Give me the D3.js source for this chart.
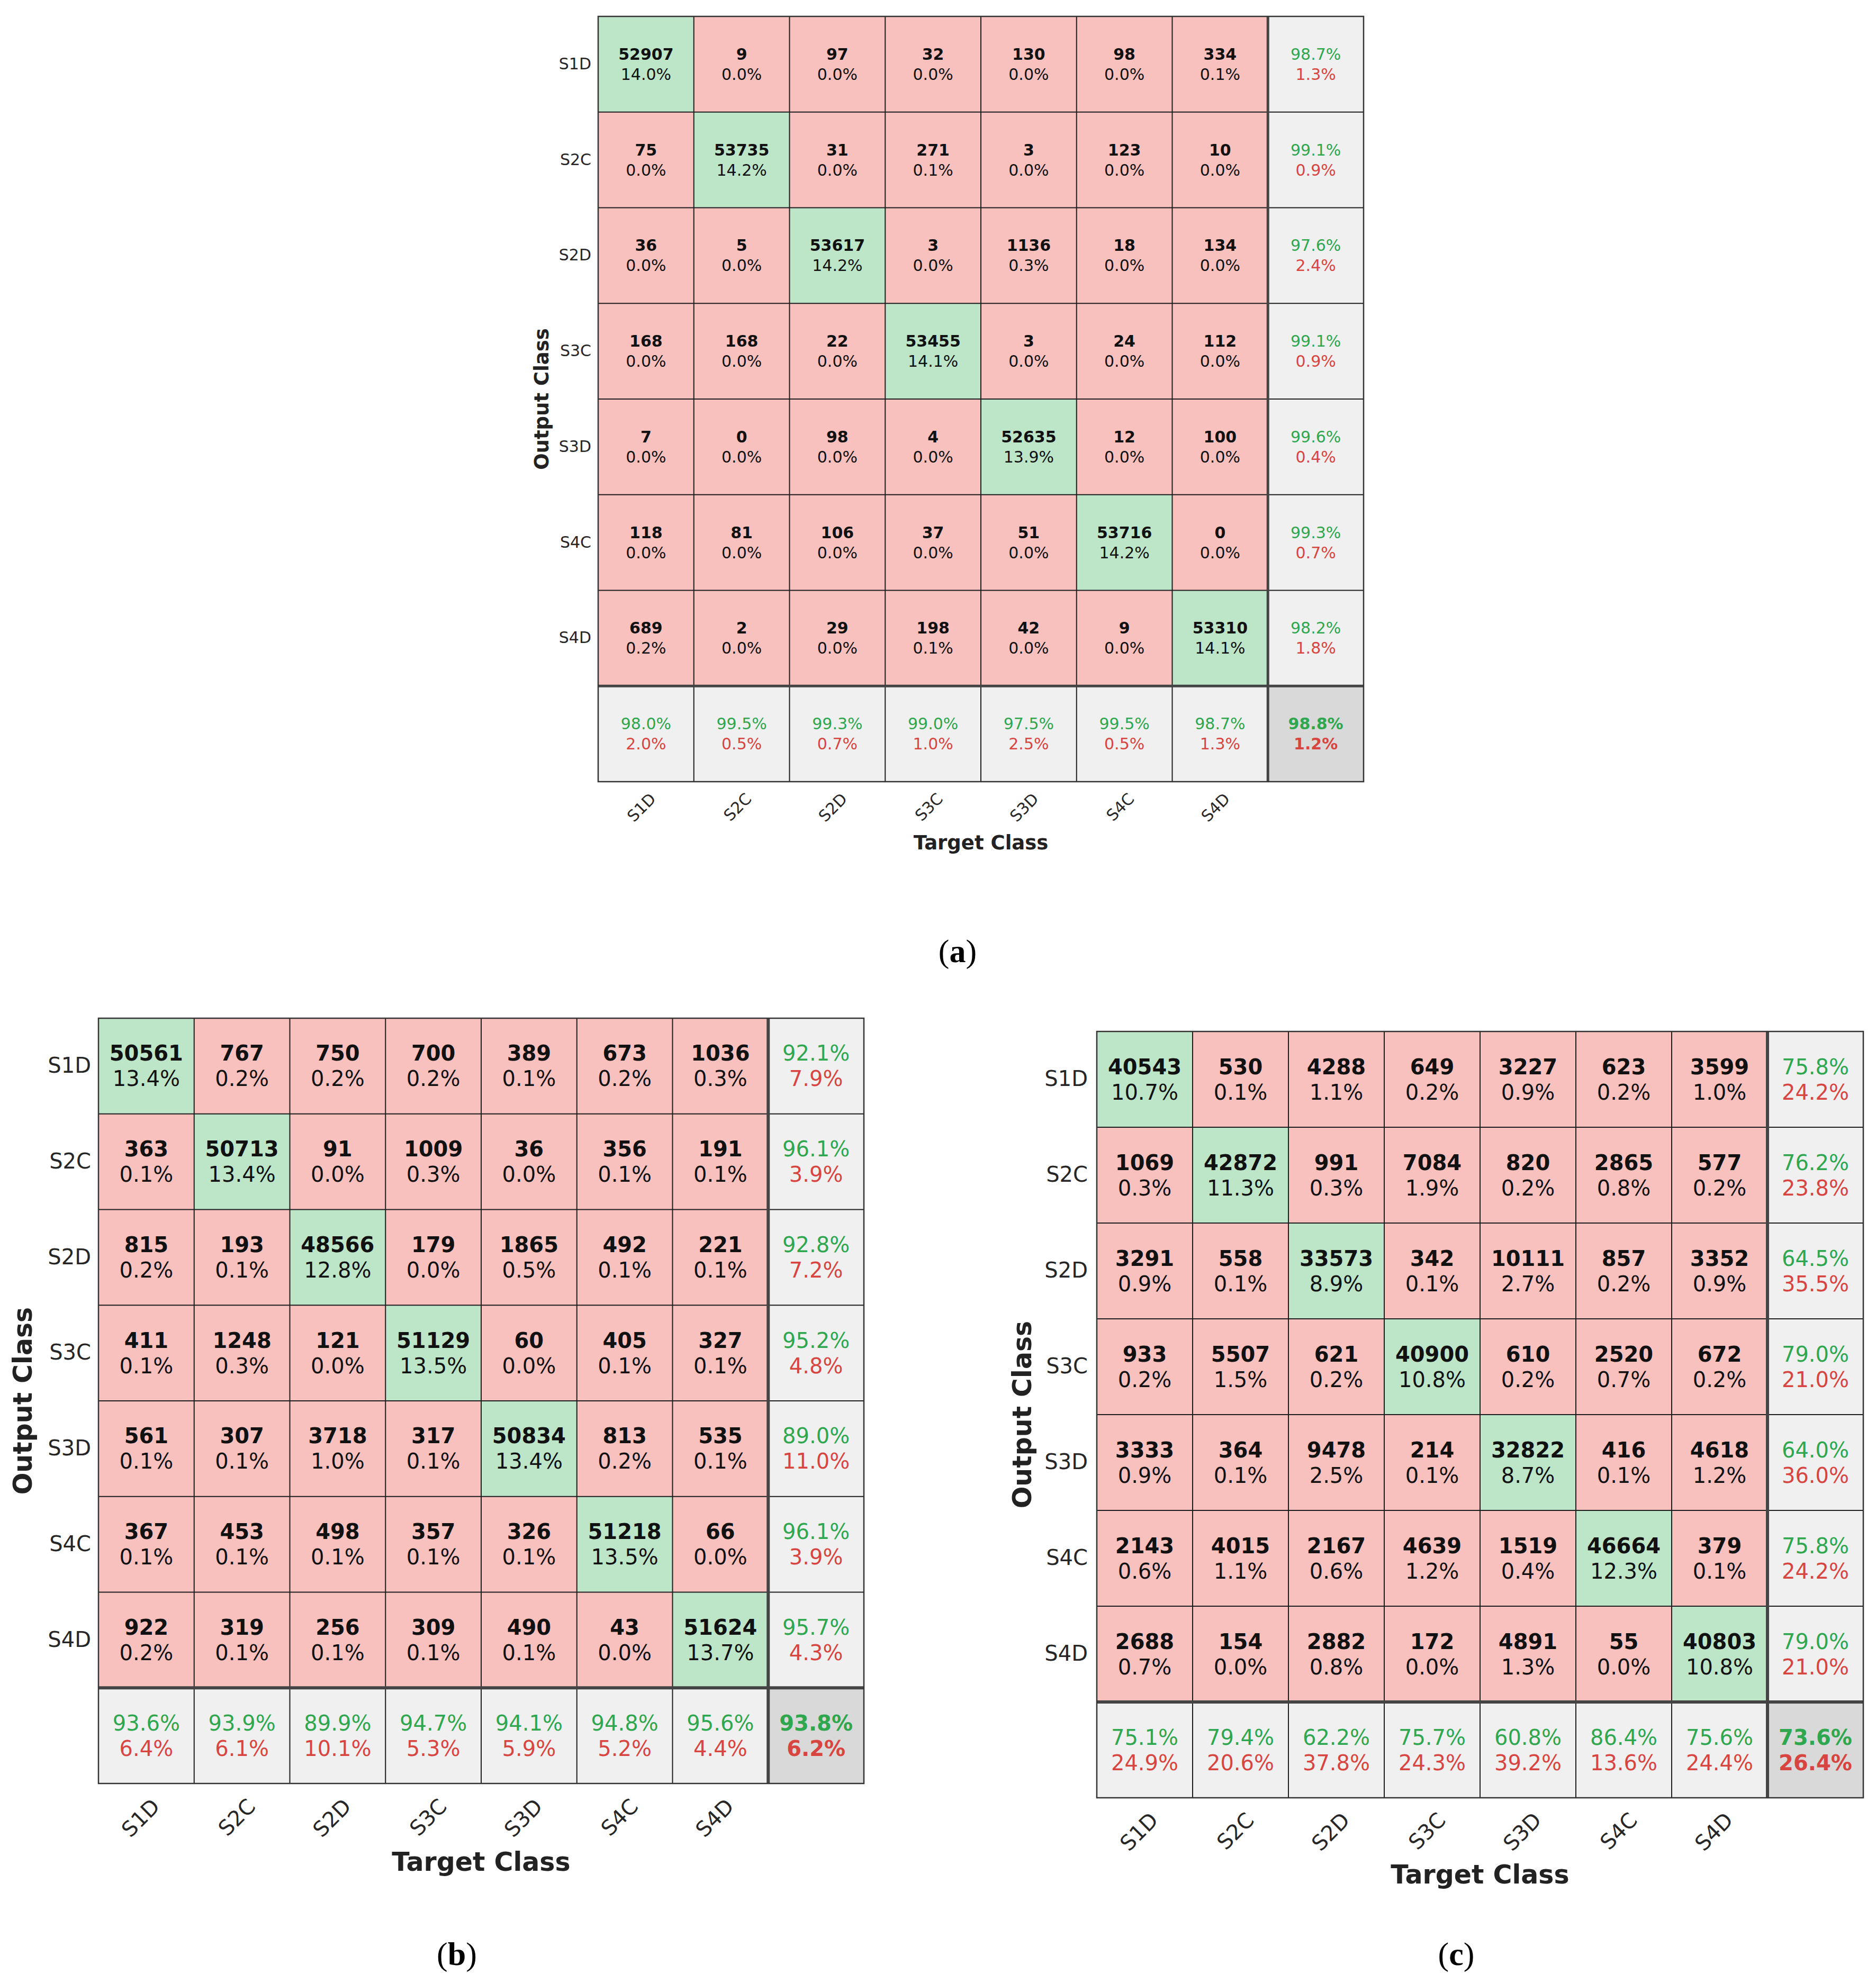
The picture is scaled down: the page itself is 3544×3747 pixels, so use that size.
<!DOCTYPE html>
<html>
<head>
<meta charset="utf-8">
<script src="https://cdn.jsdelivr.net/npm/d3@7"></script>
<style>
  html, body { margin: 0; padding: 0; background: #ffffff; }
  svg { display: block; }
</style>
</head>
<body>
<script>
// ---------- DATA ----------
const classes = ["S1D", "S2C", "S2D", "S3C", "S3D", "S4C", "S4D"];
const summaryKey = "ALL";
const axisTitleX = "Target Class";
const axisTitleY = "Output Class";
const panelLabels = ["(a)", "(b)", "(c)"];

// rows = output class, columns = target class
const countsA = [
  [52907, 9, 97, 32, 130, 98, 334],
  [75, 53735, 31, 271, 3, 123, 10],
  [36, 5, 53617, 3, 1136, 18, 134],
  [168, 168, 22, 53455, 3, 24, 112],
  [7, 0, 98, 4, 52635, 12, 100],
  [118, 81, 106, 37, 51, 53716, 0],
  [689, 2, 29, 198, 42, 9, 53310]
];
const countsB = [
  [50561, 767, 750, 700, 389, 673, 1036],
  [363, 50713, 91, 1009, 36, 356, 191],
  [815, 193, 48566, 179, 1865, 492, 221],
  [411, 1248, 121, 51129, 60, 405, 327],
  [561, 307, 3718, 317, 50834, 813, 535],
  [367, 453, 498, 357, 326, 51218, 66],
  [922, 319, 256, 309, 490, 43, 51624]
];
const countsC = [
  [40543, 530, 4288, 649, 3227, 623, 3599],
  [1069, 42872, 991, 7084, 820, 2865, 577],
  [3291, 558, 33573, 342, 10111, 857, 3352],
  [933, 5507, 621, 40900, 610, 2520, 672],
  [3333, 364, 9478, 214, 32822, 416, 4618],
  [2143, 4015, 2167, 4639, 1519, 46664, 379],
  [2688, 154, 2882, 172, 4891, 55, 40803]
];

// ---------- STYLE ----------
const COL = {
  diag: "#bde5c8",
  off: "#f8c1be",
  summary: "#f0f0f0",
  corner: "#d9d9d9",
  green: "#2fa74f",
  red: "#d84541",
  text: "#111111",
  tick: "#262626",
  thin: "#1e1e1e",
  thick: "#444444"
};

const W = 3544, H = 3747;
const svg = d3.select("body").append("svg")
  .attr("width", W).attr("height", H)
  .attr("viewBox", `0 0 ${W} ${H}`);
svg.append("rect").attr("width", W).attr("height", H).attr("fill", "#ffffff");

const panels = [
  { counts: countsA, label: panelLabels[0], x0: 1130, y0: 31, size: 1446,
    fs: 30, lh: 19, tickFs: 30, tickPad: 13, titleFs: 37,
    yTitleX: 1023, xTitleY: 1592, rot: [13, 27], lbl: [1809, 1797], thick: 5 },
  { counts: countsB, label: panelLabels[1], x0: 186, y0: 1924, size: 1446,
    fs: 40, lh: 24, tickFs: 40, tickPad: 14, titleFs: 49,
    yTitleX: 43, xTitleY: 3518, rot: [18, 36], lbl: [863, 3692], thick: 6 },
  { counts: countsC, label: panelLabels[2], x0: 2072, y0: 1949, size: 1448,
    fs: 40, lh: 24, tickFs: 40, tickPad: 17, titleFs: 49,
    yTitleX: 1931, xTitleY: 3542, rot: [18, 35], lbl: [2751, 3692], thick: 6 }
];

const pct = v => (v * 100).toFixed(1) + "%";

function drawPanel(p) {
  const keys = classes.concat([summaryKey]);
  const x = d3.scaleBand().domain(keys).range([p.x0, p.x0 + p.size]);
  const y = d3.scaleBand().domain(keys).range([p.y0, p.y0 + p.size]);
  const bw = x.bandwidth(), bh = y.bandwidth();
  const m = p.counts;
  const total = d3.sum(m.flat());
  const rowSum = m.map(r => d3.sum(r));
  const colSum = classes.map((_, j) => d3.sum(m, r => r[j]));
  const diagSum = d3.sum(classes, (_, i) => m[i][i]);

  const cells = [];
  classes.forEach((r, i) => classes.forEach((c, j) => {
    cells.push({ row: r, col: c, v: m[i][j], diag: i === j });
  }));

  const g = svg.append("g");

  g.selectAll("rect.cell").data(cells).join("rect")
    .attr("x", d => x(d.col)).attr("y", d => y(d.row))
    .attr("width", bw).attr("height", bh)
    .attr("fill", d => d.diag ? COL.diag : COL.off);

  const summ = [];
  classes.forEach((r, i) => summ.push({ row: r, col: summaryKey, acc: m[i][i] / rowSum[i] }));
  classes.forEach((c, j) => summ.push({ row: summaryKey, col: c, acc: m[j][j] / colSum[j] }));
  summ.push({ row: summaryKey, col: summaryKey, acc: diagSum / total, corner: true });

  g.selectAll("rect.summ").data(summ).join("rect")
    .attr("x", d => x(d.col)).attr("y", d => y(d.row))
    .attr("width", bw).attr("height", bh)
    .attr("fill", d => d.corner ? COL.corner : COL.summary);

  const lines = g.append("g").attr("stroke", COL.thin).attr("stroke-width", 2);
  keys.slice(1).forEach(k => {
    lines.append("line").attr("x1", x(k)).attr("x2", x(k))
      .attr("y1", p.y0).attr("y2", p.y0 + p.size);
    lines.append("line").attr("y1", y(k)).attr("y2", y(k))
      .attr("x1", p.x0).attr("x2", p.x0 + p.size);
  });
  g.append("line").attr("x1", x(summaryKey)).attr("x2", x(summaryKey))
    .attr("y1", p.y0).attr("y2", p.y0 + p.size)
    .attr("stroke", COL.thick).attr("stroke-width", p.thick);
  g.append("line").attr("y1", y(summaryKey)).attr("y2", y(summaryKey))
    .attr("x1", p.x0).attr("x2", p.x0 + p.size)
    .attr("stroke", COL.thick).attr("stroke-width", p.thick);
  g.append("rect").attr("x", p.x0).attr("y", p.y0)
    .attr("width", p.size).attr("height", p.size)
    .attr("fill", "none").attr("stroke", "#333333").attr("stroke-width", 2.5);

  const ct = g.append("g").attr("font-family", "'DejaVu Sans', sans-serif")
    .attr("font-size", p.fs).attr("text-anchor", "middle");
  ct.selectAll("text.n").data(cells).join("text")
    .attr("x", d => x(d.col) + bw / 2).attr("y", d => y(d.row) + bh / 2 - p.lh)
    .attr("dominant-baseline", "central")
    .attr("font-weight", "bold").attr("fill", COL.text)
    .text(d => d.v);
  ct.selectAll("text.p").data(cells).join("text")
    .attr("x", d => x(d.col) + bw / 2).attr("y", d => y(d.row) + bh / 2 + p.lh)
    .attr("dominant-baseline", "central")
    .attr("fill", COL.text)
    .text(d => pct(d.v / total));

  ct.selectAll("text.sa").data(summ).join("text")
    .attr("x", d => x(d.col) + bw / 2).attr("y", d => y(d.row) + bh / 2 - p.lh)
    .attr("dominant-baseline", "central")
    .attr("font-weight", d => d.corner ? "bold" : "normal")
    .attr("fill", COL.green)
    .text(d => pct(d.acc));
  ct.selectAll("text.se").data(summ).join("text")
    .attr("x", d => x(d.col) + bw / 2).attr("y", d => y(d.row) + bh / 2 + p.lh)
    .attr("dominant-baseline", "central")
    .attr("font-weight", d => d.corner ? "bold" : "normal")
    .attr("fill", COL.red)
    .text(d => pct(1 - d.acc));

  const ya = g.append("g").attr("transform", `translate(${p.x0},0)`)
    .call(d3.axisLeft(y).tickValues(classes).tickSize(0).tickPadding(p.tickPad));
  ya.select(".domain").remove();
  ya.selectAll("text").attr("font-family", "'DejaVu Sans', sans-serif")
    .attr("font-size", p.tickFs).attr("fill", COL.tick);

  const xa = g.append("g").attr("transform", `translate(0,${p.y0 + p.size})`)
    .call(d3.axisBottom(x).tickValues(classes).tickSize(0));
  xa.select(".domain").remove();
  xa.selectAll("text")
    .attr("font-family", "'DejaVu Sans', sans-serif")
    .attr("font-size", p.tickFs).attr("fill", COL.tick)
    .attr("x", 0).attr("y", 0).attr("dy", "0.35em")
    .attr("text-anchor", "end")
    .attr("transform", `translate(${p.rot[0]},${p.rot[1]}) rotate(-45)`);

  g.append("text")
    .attr("x", p.x0 + p.size / 2).attr("y", p.xTitleY)
    .attr("dominant-baseline", "central").attr("text-anchor", "middle")
    .attr("font-family", "'DejaVu Sans', sans-serif").attr("font-weight", "bold")
    .attr("font-size", p.titleFs).attr("fill", "#222")
    .text(axisTitleX);
  g.append("text")
    .attr("transform", `translate(${p.yTitleX},${p.y0 + p.size / 2}) rotate(-90)`)
    .attr("dominant-baseline", "central").attr("text-anchor", "middle")
    .attr("font-family", "'DejaVu Sans', sans-serif").attr("font-weight", "bold")
    .attr("font-size", p.titleFs).attr("fill", "#222")
    .text(axisTitleY);

  const lt = g.append("text")
    .attr("x", p.lbl[0]).attr("y", p.lbl[1])
    .attr("dominant-baseline", "central").attr("text-anchor", "middle")
    .attr("font-family", "'Liberation Serif', serif")
    .attr("font-size", 62).attr("fill", "#000");
  lt.append("tspan").text("(");
  lt.append("tspan").attr("font-weight", "bold").text(p.label.slice(1, -1));
  lt.append("tspan").text(")");
}

panels.forEach(drawPanel);
</script>
</body>
</html>
